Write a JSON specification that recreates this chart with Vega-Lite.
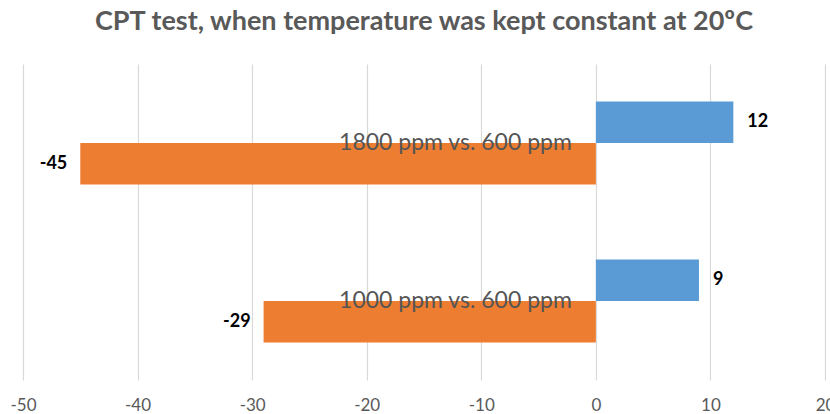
{
  "$schema": "https://vega.github.io/schema/vega-lite/v6.json",
  "width": 802,
  "height": 316,
  "autosize": "none",
  "padding": {"left": 23, "top": 64, "right": 5, "bottom": 34},
  "background": "white",
  "title": {
    "text": "CPT test, when temperature was kept constant at 20ºC",
    "font": "Lato",
    "fontSize": 27,
    "fontWeight": "bold",
    "color": "#595959",
    "anchor": "middle",
    "offset": 28
  },
  "config": {"view": {"stroke": null}},
  "datasets": {
    "bars": [
      {"comparison": "1800 ppm vs. 600 ppm", "series": "Series 1", "value": 12},
      {"comparison": "1800 ppm vs. 600 ppm", "series": "Series 2", "value": -45},
      {"comparison": "1000 ppm vs. 600 ppm", "series": "Series 1", "value": 9},
      {"comparison": "1000 ppm vs. 600 ppm", "series": "Series 2", "value": -29}
    ],
    "comparisons": [
      {"comparison": "1800 ppm vs. 600 ppm"},
      {"comparison": "1000 ppm vs. 600 ppm"}
    ]
  },
  "layer": [
    {
      "data": {"name": "bars"},
      "mark": {"type": "bar"},
      "encoding": {
        "x": {
          "field": "value",
          "type": "quantitative",
          "scale": {"domain": [-50, 20], "nice": false, "zero": false},
          "axis": {
            "title": null,
            "values": [-50, -40, -30, -20, -10, 0, 10, 20],
            "labelExpr": "'' + datum.value",
            "domain": false,
            "ticks": false,
            "grid": true,
            "gridColor": "#D9D9D9",
            "gridWidth": 1.2,
            "labelColor": "#595959",
            "labelFont": "Lato",
            "labelFontSize": 17,
            "labelPadding": 17,
            "labelFlush": false
          }
        },
        "y": {
          "field": "comparison",
          "type": "nominal",
          "sort": null,
          "scale": {"paddingInner": 0.475, "paddingOuter": 0.2375},
          "axis": null
        },
        "yOffset": {"field": "series", "type": "nominal", "sort": ["Series 1", "Series 2"]},
        "color": {
          "field": "series",
          "type": "nominal",
          "scale": {"domain": ["Series 1", "Series 2"], "range": ["#5B9BD5", "#ED7D31"]},
          "legend": null
        }
      }
    },
    {
      "data": {"name": "bars"},
      "transform": [{"filter": "datum.value > 0"}],
      "mark": {"type": "text", "align": "left", "baseline": "middle", "dx": 14, "font": "Lato", "fontSize": 18, "fontWeight": "bold", "color": "#000000"},
      "encoding": {
        "x": {"field": "value", "type": "quantitative"},
        "y": {"field": "comparison", "type": "nominal", "sort": null},
        "yOffset": {"field": "series", "type": "nominal", "sort": ["Series 1", "Series 2"]},
        "text": {"field": "value", "type": "nominal"}
      }
    },
    {
      "data": {"name": "bars"},
      "transform": [{"filter": "datum.value < 0"}],
      "mark": {"type": "text", "align": "right", "baseline": "middle", "dx": -13, "font": "Lato", "fontSize": 18, "fontWeight": "bold", "color": "#000000"},
      "encoding": {
        "x": {"field": "value", "type": "quantitative"},
        "y": {"field": "comparison", "type": "nominal", "sort": null},
        "yOffset": {"field": "series", "type": "nominal", "sort": ["Series 1", "Series 2"]},
        "text": {"field": "value", "type": "nominal"}
      }
    },
    {
      "data": {"name": "comparisons"},
      "mark": {"type": "text", "align": "right", "baseline": "middle", "dx": -24, "font": "Lato", "fontSize": 23, "color": "#555555"},
      "encoding": {
        "x": {"datum": 0, "type": "quantitative"},
        "y": {"field": "comparison", "type": "nominal", "sort": null},
        "text": {"field": "comparison", "type": "nominal"}
      }
    }
  ]
}
